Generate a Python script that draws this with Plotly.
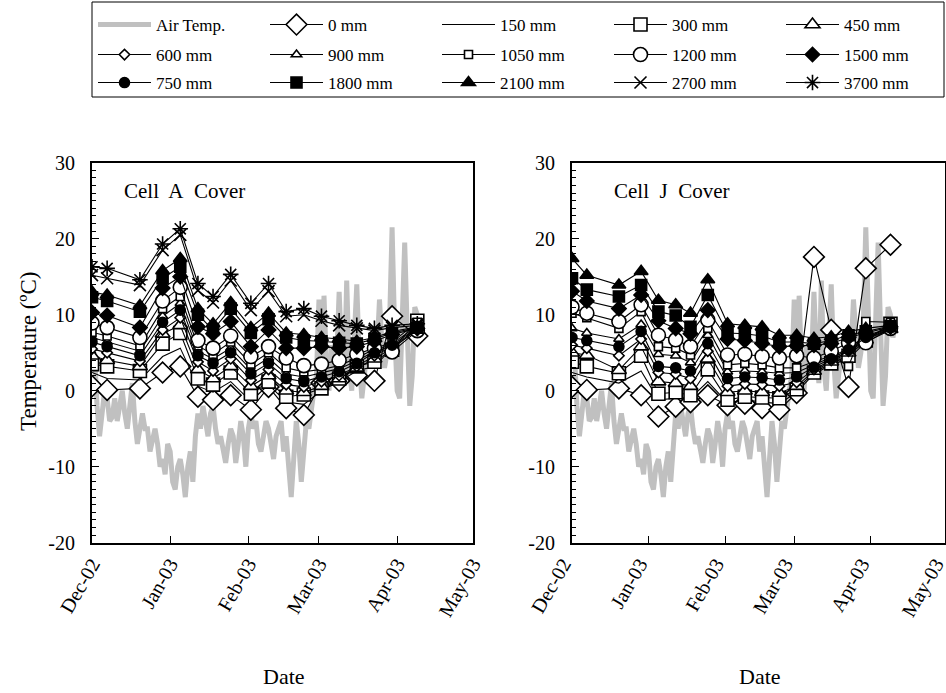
import pandas as pd
import plotly.graph_objects as go

# ---------------------------------------------------------------- data
# Sampling dates of the in-cover temperature probes
dates = ["2002-12-01", "2002-12-07", "2002-12-20", "2002-12-29", "2003-01-05",
         "2003-01-12", "2003-01-18", "2003-01-25", "2003-02-02", "2003-02-09",
         "2003-02-16", "2003-02-23", "2003-03-02", "2003-03-09", "2003-03-16",
         "2003-03-23", "2003-03-30", "2003-04-09"]

# Daily mean air temperature (deg C) from 1 Dec 2002
air_temp = [3, 5, -2, -6, -3, 0, -1, -4, -3.5, -1, -4, -2, 0, -3, -5, -2, 1, -4, -7, -5,
            -3, -5, -5, -8, -6, -5, -7, -10, -9, -11, -7,
            -8, -12, -13, -10, -9, -11, -14, -10, -8, -12, -6, -3, -5, -2, -4, -6, -3, -2, -5,
            -7, -6, -8, -9.5, -7, -5, -6, -9.5, -7, -4, -6, -10,
            -5, -3, -5, -4, -7, -8, -6, -4, -5, -7, -9, -6, -5, -4, -8, -6, -10, -14, -9, -4,
            -7, -12, -8, -4, -5, -2, 0, 2,
            12, 0, 12.5, 3, 0, 6, 2, 4, 13, 5, 1, 14.5, 3, 0, 7, 14, 4, -1, 2, 5,
            3, 4, 8, 5, 12, 6, 3, 5, 9, 21.5, 8,
            0, -1, 9, 19.5, 8, -2, 2, 11, 10, 7, 9]
air_dates = pd.date_range("2002-12-01", periods=len(air_temp)).strftime("%Y-%m-%d").tolist()

# Cell A cover, temperature (deg C) by probe depth
a_0 = [0.6, 0.1, 0.3, 2.4, 3.2, -0.8, -1.2, -0.6, -2.5, 0.5, -2.3, -3.2, 1.0, 1.3, 2.0, 1.3, 9.8, 7.2]
a_150 = [2.4, 1.6, 1.4, 4.5, 5.6, 0.6, -0.2, 1.2, -1.4, 0.8, -1.5, -1.8, 0.0, 1.2, 2.6, 3.2, 5.6, 8.0]
a_300 = [3.5, 3.2, 2.6, 6.2, 7.6, 1.6, 0.8, 2.4, -0.4, 1.2, -0.8, -0.5, 0.3, 1.6, 3.2, 3.8, 5.4, 9.2]
a_450 = [4.6, 4.0, 3.2, 7.5, 8.6, 2.8, 1.6, 3.2, 0.6, 2.0, 0.0, -0.2, 0.6, 1.6, 3.0, 4.2, 5.6, 8.0]
a_600 = [5.5, 5.0, 3.9, 8.0, 9.6, 3.8, 2.6, 4.2, 1.4, 2.8, 0.8, 0.5, 1.2, 2.0, 3.2, 4.6, 5.8, 8.1]
a_750 = [6.4, 5.8, 4.6, 9.0, 10.6, 4.6, 3.6, 5.0, 2.2, 3.6, 1.6, 1.2, 1.8, 2.5, 3.6, 5.0, 6.0, 8.3]
a_900 = [7.0, 6.4, 5.2, 9.8, 11.5, 5.2, 4.2, 5.6, 2.8, 4.3, 2.2, 1.8, 2.3, 2.9, 3.9, 5.2, 6.2, 8.5]
a_1050 = [7.7, 7.2, 5.9, 10.8, 12.4, 5.9, 4.8, 6.4, 3.5, 5.0, 3.0, 2.5, 2.8, 3.3, 4.3, 5.5, 6.4, 9.0]
a_1200 = [8.9, 8.3, 7.0, 11.8, 13.6, 6.6, 5.6, 7.2, 4.5, 5.8, 4.3, 3.3, 3.5, 4.0, 4.8, 5.6, 5.1, 7.9]
a_1500 = [10.3, 9.9, 8.3, 13.5, 15.0, 8.4, 7.5, 9.1, 5.8, 8.0, 5.6, 5.6, 5.8, 5.6, 5.8, 6.5, 7.4, 8.2]
a_1800 = [12.3, 11.8, 10.4, 14.8, 16.3, 10.0, 8.0, 10.8, 7.6, 9.4, 7.0, 6.6, 6.5, 6.3, 6.2, 6.8, 7.6, 8.3]
a_2100 = [13.0, 12.6, 11.2, 15.8, 17.4, 10.8, 8.8, 11.6, 8.3, 10.2, 7.6, 7.4, 7.0, 6.8, 6.5, 7.0, 7.8, 8.4]
a_2700 = [15.2, 14.8, 13.9, 18.5, 20.5, 13.2, 11.6, 14.5, 10.6, 13.1, 9.8, 10.0, 9.2, 8.6, 8.2, 7.9, 8.3, 8.6]
a_3700 = [16.3, 16.1, 14.6, 19.3, 21.3, 14.1, 12.4, 15.3, 11.5, 14.1, 10.4, 10.8, 9.8, 9.2, 8.6, 8.2, 8.6, 8.8]

# Cell J cover, temperature (deg C) by probe depth (no 2700 / 3700 mm probes)
j_0 = [0.5, 0.1, 0.3, -0.6, -3.4, -2.1, -1.5, -0.6, -1.9, -1.7, -2.3, -2.5, -0.3, 17.6, 8.0, 0.5, 16.1, 19.2]
j_150 = [2.4, 1.8, 1.0, 2.6, -1.2, -1.0, -1.0, 1.2, -1.6, -1.2, -1.5, -1.7, -0.2, 2.2, 3.4, 4.2, 6.4, 8.0]
j_300 = [3.8, 3.2, 2.3, 4.6, -0.4, -0.2, -0.6, 2.8, -1.2, -0.8, -0.9, -1.0, 0.2, 2.4, 3.6, 4.6, 6.6, 8.8]
j_450 = [5.0, 4.7, 2.7, 5.8, 1.2, 1.0, 0.6, 4.2, -0.2, 0.0, -0.2, -0.3, 0.6, 2.6, 3.8, 5.0, 6.7, 8.1]
j_600 = [6.0, 5.6, 4.6, 6.8, 2.4, 2.2, 1.6, 5.2, 0.6, 0.9, 0.8, 0.6, 1.1, 2.8, 4.0, 5.2, 6.8, 8.2]
j_750 = [7.0, 6.6, 5.8, 7.8, 3.2, 3.0, 2.6, 6.2, 1.6, 1.8, 1.7, 1.4, 1.8, 3.1, 4.2, 5.4, 7.0, 8.3]
j_900 = [8.2, 7.6, 6.8, 8.7, 4.8, 4.6, 3.7, 7.3, 2.5, 2.6, 2.5, 2.3, 2.4, 3.4, 4.4, 5.6, 7.2, 8.3]
j_1050 = [10.2, 9.6, 8.2, 10.4, 5.8, 5.6, 4.7, 8.2, 3.4, 3.6, 3.4, 3.0, 3.0, 3.8, 4.6, 3.2, 9.1, 9.0]
j_1200 = [11.0, 10.2, 9.1, 11.3, 7.3, 6.7, 5.8, 9.3, 4.7, 4.8, 4.5, 4.3, 4.6, 4.3, 5.2, 6.3, 6.3, 8.2]
j_1500 = [13.1, 11.8, 10.8, 12.6, 9.2, 8.2, 7.5, 10.6, 6.8, 6.6, 6.2, 5.8, 5.9, 6.0, 6.2, 7.0, 7.6, 8.4]
j_1800 = [14.8, 13.3, 12.4, 13.9, 10.4, 9.9, 8.4, 12.6, 7.6, 7.5, 7.2, 6.4, 6.4, 6.2, 6.6, 7.3, 7.8, 8.5]
j_2100 = [17.4, 15.2, 13.9, 15.7, 11.9, 11.3, 10.2, 14.6, 8.8, 8.6, 8.4, 7.3, 7.3, 6.9, 7.1, 7.8, 8.2, 8.6]

x_ticks = ["2002-12-01", "2003-01-01", "2003-02-01", "2003-03-01", "2003-04-01", "2003-05-01"]
x_tick_text = ["Dec-02", "Jan-03", "Feb-03", "Mar-03", "Apr-03", "May-03"]
y_ticks = [-20, -10, 0, 10, 20, 30]
y_tick_text = ["-20", "-10", "0", "10", "20", "30"]

# ---------------------------------------------------------------- styles
# name, symbol, size, fill, legend row
series_style = [
    ("0 mm", "diamond", 16, "white", "legend"),
    ("150 mm", None, 0, None, "legend"),
    ("300 mm", "square", 13, "white", "legend"),
    ("450 mm", "triangle-up", 13, "white", "legend"),
    ("600 mm", "diamond", 8, "white", "legend2"),
    ("900 mm", "triangle-up", 9, "white", "legend2"),
    ("1050 mm", "square", 8, "white", "legend2"),
    ("1200 mm", "circle", 14, "white", "legend2"),
    ("1500 mm", "diamond", 11, "black", "legend2"),
    ("750 mm", "circle", 10, "black", "legend3"),
    ("1800 mm", "square", 11, "black", "legend3"),
    ("2100 mm", "triangle-up", 12, "black", "legend3"),
    ("2700 mm", "x-thin-open", 12, "black", "legend3"),
    ("3700 mm", "asterisk-open", 13, "black", "legend3"),
]

cell_a = {"0 mm": a_0, "150 mm": a_150, "300 mm": a_300, "450 mm": a_450,
          "600 mm": a_600, "900 mm": a_900, "1050 mm": a_1050, "1200 mm": a_1200,
          "1500 mm": a_1500, "750 mm": a_750, "1800 mm": a_1800, "2100 mm": a_2100,
          "2700 mm": a_2700, "3700 mm": a_3700}
cell_j = {"0 mm": j_0, "150 mm": j_150, "300 mm": j_300, "450 mm": j_450,
          "600 mm": j_600, "900 mm": j_900, "1050 mm": j_1050, "1200 mm": j_1200,
          "1500 mm": j_1500, "750 mm": j_750, "1800 mm": j_1800, "2100 mm": j_2100}

FONT = "Liberation Serif, Times New Roman, serif"
W, H = 946, 693

fig = go.Figure()


def add_panel(cell, xa, ya, show_legend):
    fig.add_trace(go.Scatter(
        x=air_dates, y=air_temp, mode="lines", name="Air Temp.",
        line=dict(color="#c0c0c0", width=5), xaxis=xa, yaxis=ya,
        legend="legend", legendgroup="air", showlegend=show_legend))
    for name, sym, size, fill, leg in series_style:
        if name not in cell:
            continue
        if sym is None:
            mode, marker = "lines", None
        else:
            mode = "lines+markers"
            open_sym = sym.endswith("-open")
            marker = dict(symbol=sym, size=size,
                          color="black" if open_sym else fill,
                          line=dict(color="black", width=1.6))
        fig.add_trace(go.Scatter(
            x=dates, y=cell[name], mode=mode, name=name, marker=marker,
            line=dict(color="black", width=1.1), xaxis=xa, yaxis=ya,
            legend=leg, legendgroup=name, showlegend=show_legend))


add_panel(cell_a, "x", "y", True)
add_panel(cell_j, "x2", "y2", False)

y_dom = [(H - 542.7) / H, (H - 162.7) / H]
x_common = dict(
    type="date", range=["2002-12-01", "2003-05-01 02:00"],
    tickvals=x_ticks, ticktext=x_tick_text, tickangle=-60,
    ticklabeloverflow="allow",
    ticks="inside", ticklen=7, tickwidth=1.3, tickcolor="black",
    showline=True, linecolor="black", linewidth=2, mirror=True,
    showgrid=False, zeroline=False,
    tickfont=dict(family=FONT, size=20, color="black"))
y_common = dict(
    range=[-20, 30], tickvals=y_ticks, ticktext=y_tick_text,
    ticks="inside", ticklen=7, tickwidth=1.3, tickcolor="black",
    minor=dict(dtick=1, ticks="inside", ticklen=4, tickwidth=1, tickcolor="black", showgrid=False),
    showline=True, linecolor="black", linewidth=2, mirror=True,
    showgrid=False, zeroline=False, ticklabelstandoff=11,
    tickfont=dict(family=FONT, size=20, color="black"))

legend_common = dict(
    orientation="h", xanchor="left", yanchor="middle", x=93 / W,
    bgcolor="rgba(0,0,0,0)", borderwidth=0, itemwidth=53,
    entrywidth=104, font=dict(family=FONT, size=17, color="black"),
    itemclick=False, itemdoubleclick=False)

fig.update_layout(
    width=W, height=H,
    margin=dict(l=0, r=0, t=0, b=0, autoexpand=False),
    paper_bgcolor="white", plot_bgcolor="white",
    font=dict(family=FONT, color="black"),
    xaxis=dict(domain=[92 / W, 473 / W], anchor="y", **x_common),
    yaxis=dict(domain=y_dom, anchor="x", **y_common),
    xaxis2=dict(domain=[572 / W, 945 / W], anchor="y2", ticklabelshift=-9, **x_common),
    yaxis2=dict(domain=y_dom, anchor="x2", **y_common),
    legend=dict(y=(H - 25) / H, **legend_common),
    legend2=dict(y=(H - 55) / H, **legend_common),
    legend3=dict(y=(H - 83) / H, **legend_common),
    shapes=[dict(type="rect", xref="paper", yref="paper",
                 x0=92 / W, x1=944 / W, y0=(H - 97) / H, y1=(H - 2) / H,
                 line=dict(color="black", width=1), fillcolor="rgba(0,0,0,0)")],
    annotations=[
        dict(text="Cell\u00a0 A\u00a0 Cover", xref="paper", yref="paper", x=122 / W, y=(H - 191) / H,
             xanchor="left", yanchor="middle", showarrow=False,
             font=dict(family=FONT, size=21, color="black")),
        dict(text="Cell\u00a0 J\u00a0 Cover", xref="paper", yref="paper", x=612 / W, y=(H - 191) / H,
             xanchor="left", yanchor="middle", showarrow=False,
             font=dict(family=FONT, size=21, color="black")),
        dict(text="Temperature (\u00baC)", xref="paper", yref="paper", x=28 / W, y=(H - 352) / H,
             xanchor="center", yanchor="middle", textangle=-90, showarrow=False,
             font=dict(family=FONT, size=23, color="black")),
        dict(text="Date", xref="paper", yref="paper", x=284 / W, y=(H - 676) / H,
             xanchor="center", yanchor="middle", showarrow=False,
             font=dict(family=FONT, size=22, color="black")),
        dict(text="Date", xref="paper", yref="paper", x=760 / W, y=(H - 676) / H,
             xanchor="center", yanchor="middle", showarrow=False,
             font=dict(family=FONT, size=22, color="black")),
    ],
)

fig.write_html("out.html")
